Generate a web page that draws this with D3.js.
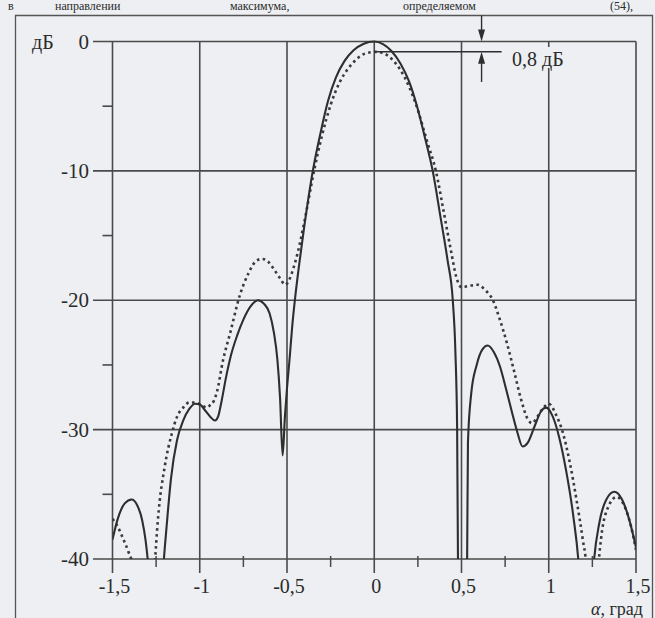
<!DOCTYPE html>
<html>
<head>
<meta charset="utf-8">
<script src="https://cdn.jsdelivr.net/npm/d3@7"></script>
<style>
  html, body { margin: 0; padding: 0; background: #edeff2; }
  svg { display: block; }
  text { font-family: "Liberation Serif", "DejaVu Serif", serif; fill: #2b2b2b; }
</style>
</head>
<body>
<svg id="chart" width="655" height="618"></svg>
<script>
// ---------- data ----------
const xTickValues = [-1.5, -1, -0.5, 0, 0.5, 1, 1.5];
const xTickLabels = ["-1,5", "-1", "-0,5", "0", "0,5", "1", "1,5"];
const xMinorTicks = [-1.25, -0.75, -0.25, 0.25, 0.75, 1.25];
const yTickValues = [0, -10, -20, -30, -40];
const yTickLabels = ["0", "-10", "-20", "-30", "-40"];
const yMinorTicks = [-5, -15, -25, -35];

// solid curve (alpha, dB); values below -40 are clipped by the plot frame
const solidAlpha = [-1.5, -1.47, -1.43, -1.39, -1.36, -1.33, -1.31, -1.295, -1.25, -1.208, -1.19, -1.165, -1.13, -1.095, -1.06, -1.027, -0.995, -0.97, -0.94, -0.913, -0.895, -0.875, -0.85, -0.82, -0.785, -0.75, -0.71, -0.667, -0.63, -0.6, -0.575, -0.555, -0.54, -0.525, -0.512, -0.5, -0.485, -0.47, -0.455, -0.43, -0.4, -0.352, -0.31, -0.265, -0.22, -0.17, -0.12, -0.06, 0, 0.05, 0.1, 0.15, 0.2, 0.245, 0.29, 0.335, 0.38, 0.42, 0.45, 0.465, 0.475, 0.48, 0.507, 0.532, 0.537, 0.555, 0.587, 0.62, 0.65, 0.685, 0.72, 0.758, 0.79, 0.82, 0.85, 0.88, 0.92, 0.955, 0.985, 1.02, 1.06, 1.1, 1.14, 1.172, 1.215, 1.257, 1.29, 1.33, 1.376, 1.42, 1.46, 1.5];
const solidDb    = [-38.5, -36.9, -35.7, -35.4, -35.8, -37.0, -38.6, -40.5, -52, -40.5, -37.5, -33.8, -30.8, -29.3, -28.4, -28.0, -28.1, -28.5, -29.0, -29.3, -29.0, -27.8, -26.0, -24.2, -22.7, -21.5, -20.5, -20.0, -20.3, -21.0, -22.5, -24.6, -27.5, -32.0, -29.0, -26.8, -24.5, -22.0, -20.0, -17.2, -14.2, -10.0, -7.2, -4.6, -2.8, -1.5, -0.7, -0.18, 0, -0.2, -0.75, -1.7, -3.1, -5.0, -7.4, -10.0, -13.6, -16.9, -20.0, -24, -30, -40.5, -55, -40.5, -31, -27.3, -25.0, -23.8, -23.5, -24.0, -25.1, -27.0, -28.7, -30.2, -31.3, -31.0, -29.7, -28.6, -28.3, -28.9, -30.6, -33.2, -36.6, -40.5, -52, -40.5, -37.2, -35.4, -34.8, -35.4, -36.9, -39.1];

// dotted curve (alpha, dB)
const dottedAlpha = [-1.5, -1.47, -1.44, -1.41, -1.385, -1.32, -1.258, -1.24, -1.2, -1.16, -1.13, -1.095, -1.06, -1.03, -0.99, -0.96, -0.94, -0.92, -0.9, -0.866, -0.827, -0.77, -0.72, -0.68, -0.645, -0.61, -0.575, -0.54, -0.51, -0.49, -0.465, -0.44, -0.4, -0.345, -0.3, -0.25, -0.2, -0.15, -0.1, -0.05, 0.01, 0.06, 0.1, 0.15, 0.2, 0.25, 0.3, 0.353, 0.4, 0.44, 0.47, 0.5, 0.54, 0.59, 0.635, 0.68, 0.72, 0.76, 0.8, 0.84, 0.88, 0.905, 0.935, 0.97, 1.0, 1.04, 1.08, 1.12, 1.16, 1.195, 1.215, 1.25, 1.285, 1.3, 1.34, 1.39, 1.43, 1.47, 1.5];
const dottedDb    = [-36.9, -37.5, -38.4, -39.4, -40.5, -55, -40.5, -37.0, -32.8, -30.3, -29.0, -28.3, -27.9, -27.9, -28.1, -28.3, -28.1, -27.8, -27.0, -24.6, -22.6, -19.6, -17.9, -17.0, -16.8, -17.0, -17.6, -18.3, -18.8, -18.5, -17.6, -16.4, -13.9, -10.0, -7.3, -4.9, -3.2, -2.1, -1.35, -0.92, -0.8, -0.95, -1.35, -2.2, -3.5, -5.3, -7.6, -10.0, -13.3, -16.2, -18.2, -19.0, -18.9, -18.8, -19.2, -20.0, -21.5, -23.3, -25.4, -27.6, -29.2, -29.5, -29.0, -28.3, -28.0, -28.8, -30.2, -32.5, -35.5, -38.5, -40.5, -52, -40.5, -38.4, -36.0, -35.2, -35.8, -37.4, -39.3];

// annotation values
const peakDrop = -0.8;          // dB level of dotted peak
const arrowAlpha = 0.615;       // x position of the arrow pair
const annotLineEnd = 0.73;      // end of the -0.8 dB reference line
const annotText = "0,8 дБ";
const headerWords = [["в", 8], ["направлении", 55], ["максимума,", 230], ["определяемом", 403], ["(54),", 610]];

// ---------- drawing ----------
const svg = d3.select("#chart");
const x = d3.scaleLinear().domain([-1.5, 1.5]).range([112.5, 636]);
const y = d3.scaleLinear().domain([0, -40]).range([41.5, 559]);
const ink = "#2e2e2e";
const grid = "#4a4a4a";
const bg = "#edeff2";

// top line of book text (above the figure frame)
const hdr = svg.append("g");
headerWords.forEach(([w, px]) => {
  hdr.append("text").attr("x", px).attr("y", 10).attr("font-size", 12).attr("fill", "#3a3a3a").text(w);
});

// outer frame
svg.append("path")
  .attr("d", "M15.5,625 L15.5,15.5 L652.5,15.5 L652.5,625")
  .attr("fill", "none").attr("stroke", "#555").attr("stroke-width", 1.3);

// horizontal grid lines
svg.append("g").selectAll("line").data(yTickValues).join("line")
  .attr("x1", 93).attr("x2", x(1.5))
  .attr("y1", d => y(d)).attr("y2", d => y(d))
  .attr("stroke", grid).attr("stroke-width", 1.6);

// vertical grid lines
svg.append("g").selectAll("line").data(xTickValues).join("line")
  .attr("x1", d => x(d)).attr("x2", d => x(d))
  .attr("y1", y(0)).attr("y2", y(-40) + 14)
  .attr("stroke", grid).attr("stroke-width", 1.6);

// minor ticks
svg.append("g").selectAll("line").data(xMinorTicks).join("line")
  .attr("x1", d => x(d)).attr("x2", d => x(d))
  .attr("y1", y(-40) - 3).attr("y2", y(-40) + 8)
  .attr("stroke", grid).attr("stroke-width", 1.5);
svg.append("g").selectAll("line").data(yMinorTicks).join("line")
  .attr("x1", x(-1.5) - 10).attr("x2", x(-1.5))
  .attr("y1", d => y(d)).attr("y2", d => y(d))
  .attr("stroke", grid).attr("stroke-width", 1.6);

// y labels
svg.append("g").selectAll("text").data(yTickValues).join("text")
  .attr("x", 89).attr("y", d => y(d) + 7)
  .attr("text-anchor", "end").attr("font-size", 21)
  .text((d, i) => yTickLabels[i]);
svg.append("text").attr("x", 32).attr("y", y(0) + 7).attr("font-size", 20).text("дБ");

// x labels
svg.append("g").selectAll("text").data(xTickValues).join("text")
  .attr("x", d => x(d) + 2).attr("y", 593)
  .attr("text-anchor", "middle").attr("font-size", 20)
  .text((d, i) => xTickLabels[i]);
const xl = svg.append("text").attr("x", 643).attr("y", 615).attr("text-anchor", "end").attr("font-size", 18);
xl.append("tspan").attr("font-style", "italic").text("α");
xl.append("tspan").text(", град");

// curves
svg.append("clipPath").attr("id", "plotclip").append("rect")
  .attr("x", x(-1.5)).attr("y", y(0) - 6).attr("width", x(1.5) - x(-1.5)).attr("height", y(-40) - y(0) + 6);

const line = d3.line().x(d => x(d[0])).y(d => y(d[1])).curve(d3.curveMonotoneX);
const solid = solidAlpha.map((a, i) => [a, solidDb[i]]);
const dotted = dottedAlpha.map((a, i) => [a, dottedDb[i]]);

const curves = svg.append("g").attr("clip-path", "url(#plotclip)");
curves.append("path").datum(dotted).attr("d", line)
  .attr("fill", "none").attr("stroke", "#3a3a3a").attr("stroke-width", 2.6)
  .attr("stroke-dasharray", "2.6,3.4");
curves.append("path").datum(solid).attr("d", line)
  .attr("fill", "none").attr("stroke", ink).attr("stroke-width", 2.1);

// annotation: -0.8 dB reference line
svg.append("line")
  .attr("x1", x(0)).attr("x2", x(annotLineEnd))
  .attr("y1", y(peakDrop)).attr("y2", y(peakDrop))
  .attr("stroke", ink).attr("stroke-width", 1.5);

// arrows
const ax = x(arrowAlpha);
svg.append("line").attr("x1", ax).attr("x2", ax).attr("y1", 15.5).attr("y2", y(0) - 4)
  .attr("stroke", ink).attr("stroke-width", 1.4);
svg.append("path")
  .attr("d", `M${ax - 3.5},${y(0) - 12} L${ax + 3.5},${y(0) - 12} L${ax},${y(0)} Z`)
  .attr("fill", ink);
svg.append("line").attr("x1", ax).attr("x2", ax).attr("y1", y(peakDrop) + 6).attr("y2", 82)
  .attr("stroke", ink).attr("stroke-width", 1.4);
svg.append("path")
  .attr("d", `M${ax - 3.5},${y(peakDrop) + 12} L${ax + 3.5},${y(peakDrop) + 12} L${ax},${y(peakDrop)} Z`)
  .attr("fill", ink);

// annotation text with background
svg.append("rect").attr("x", 509).attr("y", 47).attr("width", 70).attr("height", 21).attr("fill", bg);
svg.append("text").attr("x", 512).attr("y", 66).attr("font-size", 20).text(annotText);
</script>
</body>
</html>
